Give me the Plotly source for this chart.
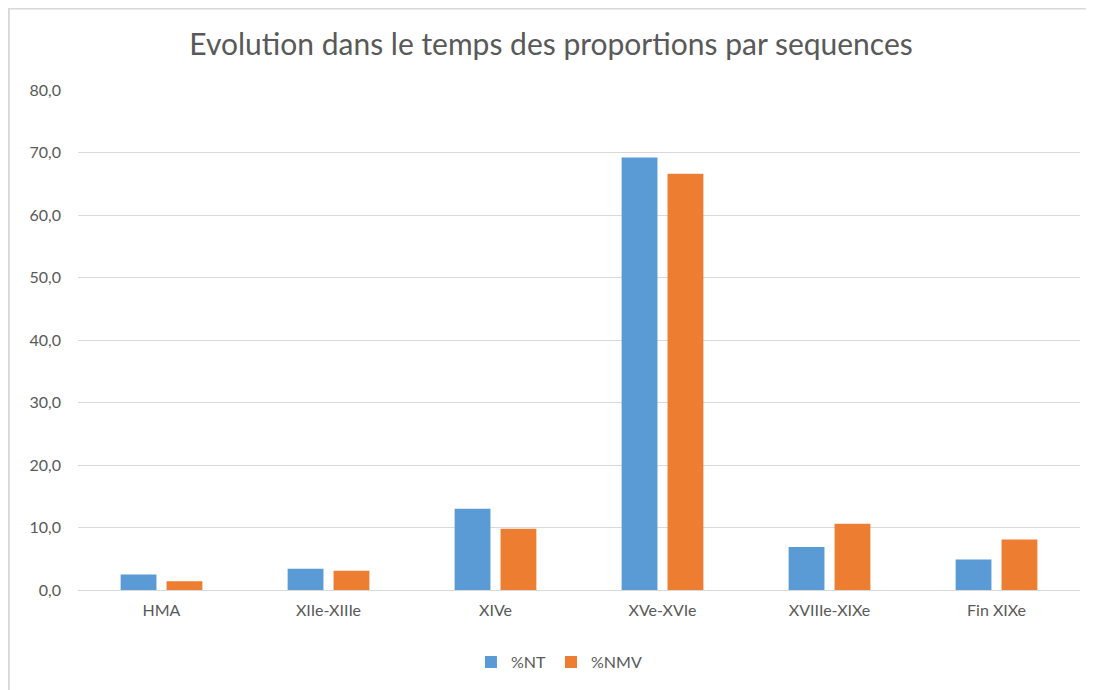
import plotly.graph_objects as go

sequences = ["HMA", "XIIe-XIIIe", "XIVe", "XVe-XVIe", "XVIIIe-XIXe", "Fin XIXe"]
pct_nt = [2.5, 3.4, 13.0, 69.2, 6.9, 4.9]
pct_nmv = [1.4, 3.1, 9.8, 66.6, 10.6, 8.1]

font_family = "Lato, 'Open Sans', sans-serif"
grey_text = "#595959"

fig = go.Figure()
fig.add_trace(go.Bar(x=sequences, y=pct_nt, name="%NT",
                     marker=dict(color="#5B9BD5", line=dict(width=0))))
fig.add_trace(go.Bar(x=sequences, y=pct_nmv, name="%NMV",
                     marker=dict(color="#ED7D31", line=dict(width=0))))

# page body has an 8px margin, so the figure is a bit smaller than the window
fig.update_layout(
    width=1086, height=682,
    paper_bgcolor="white", plot_bgcolor="white",
    margin=dict(l=70, r=14, t=82, b=99),
    separators=", ",
    font=dict(family=font_family, color=grey_text, size=16),
    title=dict(text="Evolution dans le temps des proportions par sequences",
               x=0.5, xanchor="center", y=0.946, yanchor="middle",
               font=dict(size=30, color=grey_text, family=font_family)),
    barmode="group", bargap=0.45, bargroupgap=0.22,
    showlegend=True,
    legend=dict(orientation="h", x=0.48, xanchor="center", y=-0.142, yanchor="middle",
                font=dict(size=16, color=grey_text), itemwidth=30),
    xaxis=dict(showgrid=False, ticks="", showline=True, linecolor="#D9D9D9",
               linewidth=1, tickfont=dict(size=16, color=grey_text),
               ticklabelstandoff=6),
    yaxis=dict(range=[0, 80], dtick=10, tickformat=".1f", showgrid=True,
               gridcolor="#D9D9D9", gridwidth=1, zeroline=False, showline=False,
               ticks="", ticklen=0, tickfont=dict(size=16, color=grey_text),
               ticklabelstandoff=16),
    shapes=[dict(type="rect", xref="paper", yref="paper",
                 x0=-0.069, x1=1.05, y0=-0.3, y1=1.163,
                 line=dict(color="#D9D9D9", width=2), fillcolor="rgba(0,0,0,0)",
                 layer="below")],
)

fig.write_html("out.html")
